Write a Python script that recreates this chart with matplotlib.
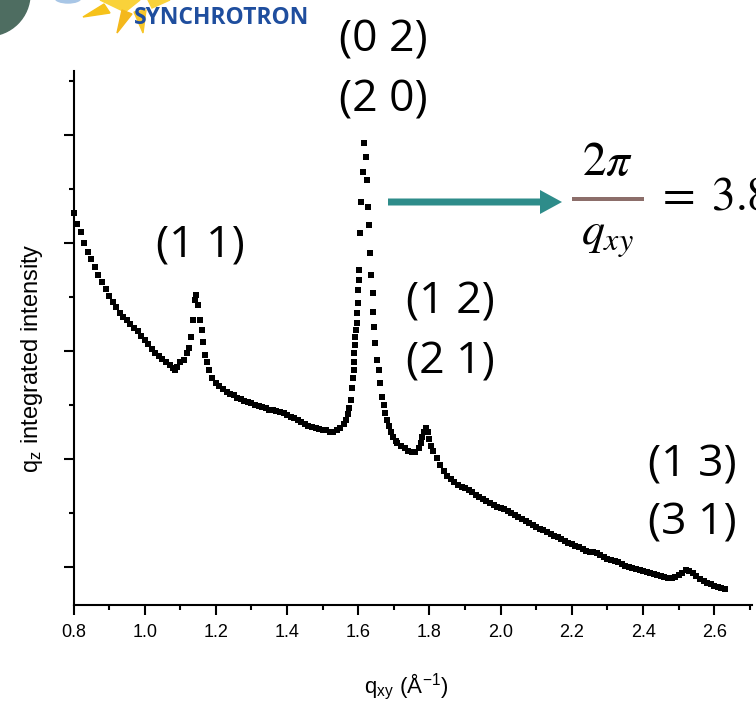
import matplotlib.pyplot as plt
import matplotlib.patches as mpatches
from matplotlib.ticker import MultipleLocator, NullFormatter

plt.rcParams['mathtext.fontset'] = 'stix'

# -------------------------------
# data (q in 1/A, intensity in arbitrary units)
# -------------------------------
q_xy = [
    0.80, 0.81, 0.82, 0.83, 0.84, 0.85, 0.86, 0.87, 0.88, 0.89,
    0.90, 0.91, 0.92, 0.93, 0.94, 0.95, 0.96, 0.97, 0.98, 0.99,
    1.00, 1.01, 1.02, 1.03, 1.04, 1.05, 1.06, 1.07, 1.08, 1.085,
    1.09, 1.10, 1.11, 1.12, 1.125, 1.13, 1.135, 1.14, 1.145, 1.15,
    1.155, 1.16, 1.165, 1.17, 1.175, 1.18, 1.19, 1.20, 1.21, 1.22,
    1.23, 1.24, 1.25, 1.26, 1.27, 1.28, 1.29, 1.30, 1.31, 1.32,
    1.33, 1.34, 1.35, 1.36, 1.37, 1.38, 1.39, 1.40, 1.41, 1.42,
    1.43, 1.44, 1.45, 1.46, 1.47, 1.48, 1.49, 1.50, 1.51, 1.52,
    1.53, 1.54, 1.55, 1.56, 1.565, 1.57, 1.575, 1.58,
    1.582, 1.585, 1.587, 1.588, 1.589, 1.591, 1.592, 1.594, 1.595, 1.596,
    1.598, 1.599, 1.601, 1.602, 1.605, 1.609, 1.612, 1.615,
    1.622, 1.624, 1.627, 1.630, 1.633, 1.636, 1.640, 1.641, 1.644, 1.648,
    1.653, 1.658, 1.662, 1.667, 1.672, 1.676, 1.681, 1.686, 1.692, 1.697,
    1.706, 1.71, 1.72, 1.73, 1.74, 1.75, 1.76, 1.77, 1.775, 1.78,
    1.785, 1.79, 1.795, 1.80, 1.805, 1.81, 1.82, 1.83, 1.84, 1.85,
    1.86, 1.87, 1.88, 1.89, 1.90, 1.91, 1.92, 1.93, 1.94, 1.95,
    1.96, 1.97, 1.98, 1.99, 2.00, 2.01, 2.02, 2.03, 2.04, 2.05,
    2.06, 2.07, 2.08, 2.09, 2.10, 2.11, 2.12, 2.13, 2.14, 2.15,
    2.16, 2.17, 2.18, 2.19, 2.20, 2.21, 2.22, 2.23, 2.24, 2.25,
    2.26, 2.27, 2.28, 2.29, 2.30, 2.31, 2.32, 2.33, 2.34, 2.35,
    2.36, 2.37, 2.38, 2.39, 2.40, 2.41, 2.42, 2.43, 2.44, 2.45,
    2.46, 2.47, 2.48, 2.49, 2.50, 2.51, 2.52, 2.53, 2.54, 2.55,
    2.56, 2.57, 2.58, 2.59, 2.60, 2.61, 2.62, 2.63,
]
intensity = [
    462, 451, 443, 432, 423, 416, 408, 400, 393, 386,
    379, 373, 368, 362, 358, 355, 351, 347, 344, 339,
    335, 331, 326, 322, 319, 316, 313, 310, 307, 305,
    308, 313, 315, 322, 327, 338, 355, 375, 380, 370,
    355, 345, 333, 320, 313, 305, 297, 292, 289, 286,
    283, 281, 280, 277, 276, 274, 273, 272, 270, 269,
    268, 267, 265, 265, 264, 263, 262, 260, 258, 257,
    255, 253, 251, 249, 248, 247, 246, 245, 245, 243,
    243, 245, 247, 251, 255, 261, 267, 275,
    287, 297, 305, 313, 322, 330, 338, 345, 352, 362,
    372, 385, 395, 405, 442, 473, 503, 532,
    518, 495, 468, 450, 422, 400, 382, 363, 348, 332,
    315, 305, 292, 278, 270, 262, 255, 249, 243, 238,
    234, 232, 229, 227, 224, 223, 223, 227, 232, 238,
    243, 247, 243, 236, 229, 224, 217, 210, 204, 199,
    196, 193, 190, 188, 187, 185, 183, 180, 178, 176,
    174, 172, 170, 168, 167, 166, 164, 162, 160, 158,
    156, 154, 152, 150, 148, 146, 145, 143, 141, 139,
    138, 136, 134, 132, 131, 129, 128, 126, 124, 123,
    123, 122, 120, 118, 116, 115, 114, 113, 111, 109,
    108, 107, 106, 105, 104, 103, 102, 101, 100, 99,
    98, 97, 97, 98, 100, 102, 105, 104, 102, 99,
    96, 94, 92, 91, 89, 88, 87, 86,
]

x_ticks = [0.8, 1.0, 1.2, 1.4, 1.6, 1.8, 2.0, 2.2, 2.4, 2.6]

# peak labels: (text, x pixel, y pixel)
peak_labels = [
    ("(0 2)", 383, 40), ("(2 0)", 383, 100),
    ("(1 1)", 200, 245),
    ("(1 2)", 450, 302), ("(2 1)", 450, 362),
    ("(1 3)", 692, 465), ("(3 1)", 692, 523),
]

# -------------------------------
# figure and axes
# -------------------------------
W, H = 756, 705
fig = plt.figure(figsize=(W / 100, H / 100), dpi=100)
ax = fig.add_axes([73.5 / W, 1 - 605 / H, (752 - 73.5) / W, (605 - 71) / H])

ax.plot(q_xy, intensity, 's', color='black', markersize=3.7, markeredgewidth=0, clip_on=False)

ax.set_xlim(0.8, 2.706)
ax.set_ylim(70, 604)
ax.set_xticks(x_ticks)
ax.set_xticklabels([f"{t:.1f}" for t in x_ticks])
ax.xaxis.set_minor_locator(MultipleLocator(0.1))
ax.yaxis.set_major_locator(MultipleLocator(108))
ax.yaxis.set_minor_locator(MultipleLocator(54))
ax.yaxis.set_major_formatter(NullFormatter())

for s in ['top', 'right']:
    ax.spines[s].set_visible(False)
for s in ['left', 'bottom']:
    ax.spines[s].set_linewidth(1.5)
ax.tick_params(which='major', direction='out', length=7.5, width=1.5,
               labelsize=13, pad=6)
ax.tick_params(which='minor', direction='out', length=3.5, width=1.5)
for lbl in ax.get_xticklabels():
    lbl.set_fontfamily('Liberation Sans')

ax.set_xlabel(r'q$_\mathregular{xy}$ ($\mathregular{\AA}^\mathregular{-1}$)',
              fontsize=16, family='Liberation Sans')
ax.set_ylabel(r'q$_\mathregular{z}$ integrated intensity',
              fontsize=17, family='Liberation Sans')
ax.xaxis.set_label_coords(0.49, -0.125)
ax.yaxis.set_label_coords(-0.042, 0.4625)

# -------------------------------
# overlay in pixel units for slide decorations
# -------------------------------
ov = fig.add_axes([0, 0, 1, 1], facecolor='none')
ov.set_xlim(0, W)
ov.set_ylim(H, 0)
ov.axis('off')

# logo fragment
ov.add_patch(mpatches.Circle((-12, -6), 42, color='#4E6D61'))
ov.add_patch(mpatches.Ellipse((68, -2), 26, 10, color='#A8C6E6'))
for pts, col in [
    ([(83, 17), (104, 4), (110, 13)], '#F6C21A'),
    ([(100, 0), (140, 0), (125, 12)], '#F9D23A'),
    ([(117, 33), (122, 10), (132, 14)], '#F4B81C'),
    ([(143, 33), (134, 12), (146, 10)], '#F7C629'),
    ([(148, 0), (170, 0), (152, 8)], '#F9D23A'),
]:
    ov.add_patch(mpatches.Polygon(pts, closed=True, color=col))
ov.text(222, 18, "SYNCHROTRON", color='#1F4E9E', fontsize=16.5,
        fontweight='bold', family='Open Sans', ha='center', va='center')

for txt, x, y in peak_labels:
    ov.text(x, y, txt, fontsize=32, family='Open Sans', ha='center', va='center')

# arrow and d-spacing formula (right part runs off the slide, as in the source)
ov.add_patch(mpatches.FancyArrow(388, 202, 174, 0, width=7, head_width=24,
                                 head_length=22, length_includes_head=True,
                                 color='#2E8C8A', linewidth=0))
ov.add_patch(mpatches.Rectangle((572, 196.5), 72, 4, color='#8C6E6A', linewidth=0))
ov.text(607, 162, r'$2\pi$', fontsize=34, ha='center', va='center')
ov.text(607, 238, r'$q_{xy}$', fontsize=33, ha='center', va='center')
ov.text(656, 197, r'$=\;3.8$', fontsize=34, ha='left', va='center')

fig.savefig('out.png', dpi=100)
